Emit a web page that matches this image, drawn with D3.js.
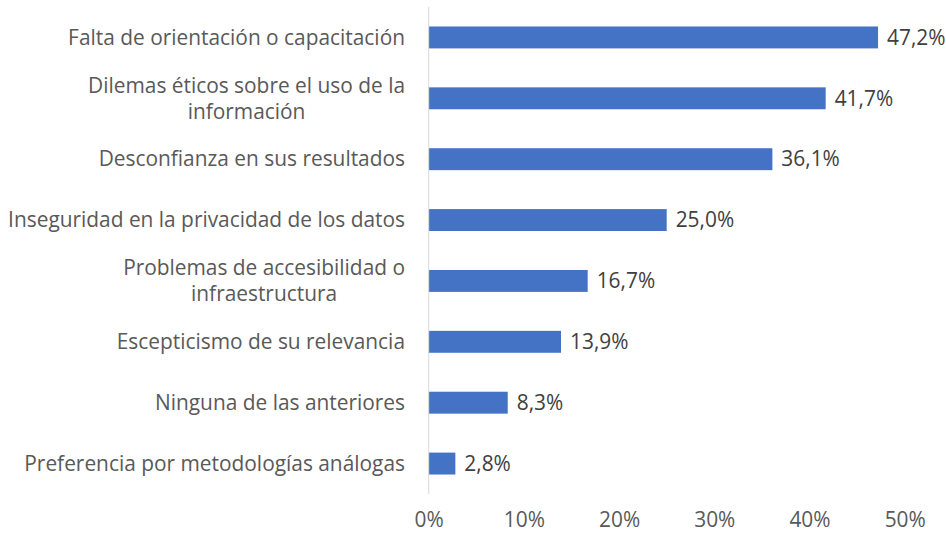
<!DOCTYPE html>
<html>
<head>
<meta charset="utf-8">
<script src="https://cdn.jsdelivr.net/npm/d3@7"></script>
<style>
  html, body { margin: 0; padding: 0; background: #fff; }
  svg { display: block; }
  text { font-family: "Open Sans", sans-serif; fill: #595959; }
</style>
</head>
<body>
<svg id="chart" width="946" height="533"></svg>
<script>
const categories = [
  "Falta de orientación o capacitación",
  "Dilemas éticos sobre el uso de la\ninformación",
  "Desconfianza en sus resultados",
  "Inseguridad en la privacidad de los datos",
  "Problemas de accesibilidad o\ninfraestructura",
  "Escepticismo de su relevancia",
  "Ninguna de las anteriores",
  "Preferencia por metodologías análogas"
];
const values = [47.2, 41.7, 36.1, 25.0, 16.7, 13.9, 8.3, 2.8];
const tickValues = [0, 10, 20, 30, 40, 50];

const locale = d3.formatLocale({decimal: ",", thousands: ".", grouping: [3], currency: ["", "€"]});
const fmtVal = locale.format(".1f");

const svg = d3.select("#chart");
const plotLeft = 428.7, plotRight = 904.7, plotTop = 7, plotBottom = 494;

// fit font size so the first label has the reference width
const probe = svg.append("text").attr("font-size", 20).text(categories[0]);
const fontSize = Math.max(18, Math.min(22, 20 * 337 / probe.node().getComputedTextLength()));
probe.remove();

const x = d3.scaleLinear().domain([0, 50]).range([plotLeft, plotRight]);
const y = d3.scaleBand().domain(categories).range([plotTop, plotBottom]).paddingInner(0.64).paddingOuter(0.32);

// bars
svg.append("g").selectAll("rect").data(categories).join("rect")
  .attr("x", x(0))
  .attr("y", d => y(d))
  .attr("width", (d, i) => x(values[i]) - x(0))
  .attr("height", y.bandwidth())
  .attr("fill", "#4472C4");

// axis line
svg.append("line")
  .attr("x1", x(0)).attr("x2", x(0))
  .attr("y1", plotTop).attr("y2", plotBottom)
  .attr("stroke", "#D9D9D9").attr("stroke-width", 1);

// category labels
const labelRight = 405;
const lineH = 26;
const lg = svg.append("g").attr("font-size", fontSize);
categories.forEach(c => {
  const lines = c.split("\n");
  const cy = y(c) + y.bandwidth() / 2;
  if (lines.length === 1) {
    lg.append("text")
      .attr("x", labelRight).attr("y", cy)
      .attr("dy", "0.35em")
      .attr("text-anchor", "end")
      .text(lines[0]);
  } else {
    const tmp = lg.append("text").text(lines[0]);
    let w = 0;
    lines.forEach(l => { tmp.text(l); w = Math.max(w, tmp.node().getComputedTextLength()); });
    tmp.remove();
    const cx = labelRight - w / 2;
    lines.forEach((l, k) => {
      lg.append("text")
        .attr("x", cx)
        .attr("y", cy + (k - (lines.length - 1) / 2) * lineH)
        .attr("dy", "0.35em")
        .attr("text-anchor", "middle")
        .text(l);
    });
  }
});

// value labels
svg.append("g").attr("font-size", fontSize).selectAll("text").data(categories).join("text")
  .attr("x", (d, i) => x(values[i]) + 9)
  .attr("y", d => y(d) + y.bandwidth() / 2)
  .attr("dy", "0.35em")
  .style("fill", "#404040")
  .text((d, i) => fmtVal(values[i]) + "%");

// x axis tick labels
const xAxis = d3.axisBottom(x).tickValues(tickValues).tickSize(0).tickPadding(0)
  .tickFormat(d => d + "%");
const ag = svg.append("g").attr("transform", `translate(0, 512)`).call(xAxis);
ag.select(".domain").remove();
ag.selectAll("text").attr("font-size", fontSize).attr("font-family", "'Open Sans', sans-serif")
  .style("fill", "#595959");
</script>
</body>
</html>
